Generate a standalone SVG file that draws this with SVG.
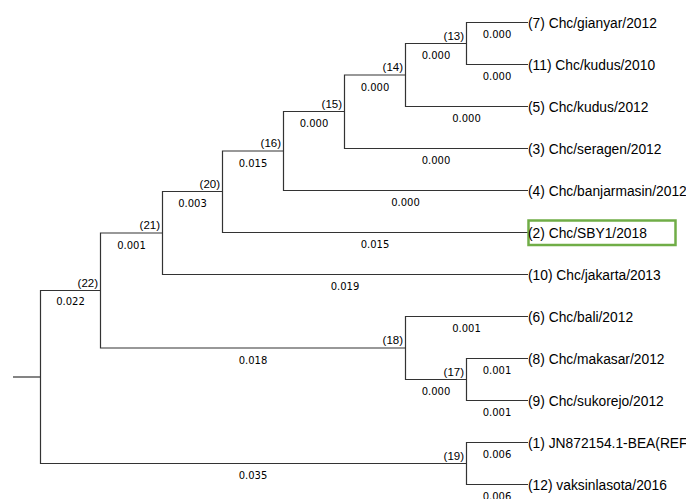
<svg xmlns="http://www.w3.org/2000/svg" width="686" height="499" viewBox="0 0 686 499">
<style>
.e{stroke:#333;stroke-width:1.2;fill:none}
.leaf{font-family:"Liberation Sans",Arial,sans-serif;font-size:13.8px;fill:#000}
.bl{font-family:"DejaVu Sans",Verdana,sans-serif;font-size:10px;fill:#000;text-anchor:middle}
.nl{font-family:"Liberation Sans",Arial,sans-serif;font-size:11.5px;fill:#000;text-anchor:end}
</style>
<rect width="686" height="499" fill="#fff"/>
<g id="connectors">
<path class="e" d="M13,377H40.5"/>
<path class="e" d="M100.5,290.5H40.5V463.5H466.5"/>
<path class="e" d="M162.5,233H100.5V348H405.5"/>
<path class="e" d="M222.5,191.5H162.5V274.5H528"/>
<path class="e" d="M283.5,151H222.5V232.5H528"/>
<path class="e" d="M344.5,111.5H283.5V190.5H528"/>
<path class="e" d="M405.5,75H344.5V148.5H528"/>
<path class="e" d="M466.5,43.5H405.5V106.5H528"/>
<path class="e" d="M528,22.5H466.5V64.5H528"/>
<path class="e" d="M528,316.5H405.5V379.5H466.5"/>
<path class="e" d="M528,358.5H466.5V400.5H528"/>
<path class="e" d="M528,442.5H466.5V484.5H528"/>
</g>
<g id="branch-lengths">
<text class="bl" x="497" y="38">0.000</text>
<text class="bl" x="497" y="80">0.000</text>
<text class="bl" x="436" y="59">0.000</text>
<text class="bl" x="466.5" y="122">0.000</text>
<text class="bl" x="375" y="90.5">0.000</text>
<text class="bl" x="436" y="164">0.000</text>
<text class="bl" x="314" y="127">0.000</text>
<text class="bl" x="405.5" y="206">0.000</text>
<text class="bl" x="253" y="166.5">0.015</text>
<text class="bl" x="375" y="248">0.015</text>
<text class="bl" x="192.5" y="207">0.003</text>
<text class="bl" x="345" y="290">0.019</text>
<text class="bl" x="131.5" y="248.5">0.001</text>
<text class="bl" x="253" y="363.5">0.018</text>
<text class="bl" x="466.5" y="332">0.001</text>
<text class="bl" x="436" y="395">0.000</text>
<text class="bl" x="497" y="374">0.001</text>
<text class="bl" x="497" y="416">0.001</text>
<text class="bl" x="70.5" y="305">0.022</text>
<text class="bl" x="253" y="479">0.035</text>
<text class="bl" x="497" y="458">0.006</text>
<text class="bl" x="497" y="500">0.006</text>
</g>
<g id="internal-nodes">
<text id="n13" class="nl" x="464" y="39.5">(13)</text>
<text id="n14" class="nl" x="403" y="71">(14)</text>
<text id="n15" class="nl" x="342" y="107.5">(15)</text>
<text id="n16" class="nl" x="281" y="147">(16)</text>
<text id="n20" class="nl" x="220" y="187.5">(20)</text>
<text id="n21" class="nl" x="160" y="229">(21)</text>
<text id="n22" class="nl" x="98" y="286.5">(22)</text>
<text id="n18" class="nl" x="403" y="344">(18)</text>
<text id="n17" class="nl" x="464" y="375.5">(17)</text>
<text id="n19" class="nl" x="464" y="459.5">(19)</text>
</g>
<g id="leaf7"><text class="leaf" x="528" y="27.5">(7) Chc/gianyar/2012</text></g>
<g id="leaf11"><text class="leaf" x="528" y="69.5">(11) Chc/kudus/2010</text></g>
<g id="leaf5"><text class="leaf" x="528" y="111.5">(5) Chc/kudus/2012</text></g>
<g id="leaf3"><text class="leaf" x="528" y="153.5">(3) Chc/seragen/2012</text></g>
<g id="leaf4"><text class="leaf" x="528" y="195.5">(4) Chc/banjarmasin/2012</text></g>
<g id="leaf2"><rect x="528.5" y="220.5" width="147" height="24.5" fill="none" stroke="#70ad47" stroke-width="2.5"/><text class="leaf" x="528" y="237.5">(2) Chc/SBY1/2018</text></g>
<g id="leaf10"><text class="leaf" x="528" y="279.5">(10) Chc/jakarta/2013</text></g>
<g id="leaf6"><text class="leaf" x="528" y="321.5">(6) Chc/bali/2012</text></g>
<g id="leaf8"><text class="leaf" x="528" y="363.5">(8) Chc/makasar/2012</text></g>
<g id="leaf9"><text class="leaf" x="528" y="405.5">(9) Chc/sukorejo/2012</text></g>
<g id="leaf1"><text class="leaf" x="528" y="447.5">(1) JN872154.1-BEA(REF</text></g>
<g id="leaf12"><text class="leaf" x="528" y="489.5">(12) vaksinlasota/2016</text></g>
</svg>
